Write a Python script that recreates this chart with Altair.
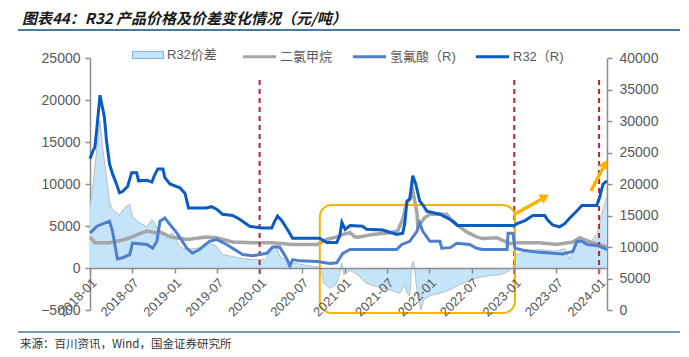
import altair as alt
import pandas as pd

# ---------------- data ----------------
spread_dates = ["2018-01-01","2018-01-14","2018-01-31","2018-02-13","2018-02-26","2018-03-13","2018-03-26",
    "2018-04-08","2018-05-08","2018-05-30","2018-06-21","2018-07-03","2018-08-03","2018-09-03","2018-09-24",
    "2018-10-07","2018-10-29","2018-11-19","2018-12-24","2019-01-23","2019-02-22","2019-04-17","2019-05-30",
    "2019-06-30","2019-07-25","2019-10-07","2019-12-02","2020-01-23","2020-02-26","2020-03-14","2020-03-27",
    "2020-05-10","2020-07-04","2020-09-16","2020-10-03","2020-10-29","2020-11-24","2020-12-07","2020-12-20",
    "2020-12-28","2021-01-24","2021-02-14","2021-03-06","2021-03-28","2021-05-01","2021-06-14","2021-07-27",
    "2021-08-26","2021-09-17","2021-09-26","2021-10-08","2021-10-17","2021-10-25","2021-11-03","2021-11-12",
    "2021-11-25","2021-12-07","2022-01-03","2022-02-15","2022-03-29","2022-05-11","2022-06-23","2022-08-05",
    "2022-09-18","2022-10-31","2022-11-22","2022-12-13","2022-12-26","2023-01-08","2023-02-16","2023-04-20",
    "2023-06-24","2023-08-06","2023-08-28","2023-09-19","2023-10-10","2023-11-22","2023-12-22","2024-01-04",
    "2024-01-18","2024-02-04"]
spread_vals = [7300,10000,14300,17500,14000,11000,7800,
    7000,6300,7200,7600,6100,5400,4900,5800,
    5300,4200,3500,4200,2500,2200,2400,3000,
    2600,1600,1200,1000,1000,2300,2800,1400,
    700,400,100,-1800,-2400,-2000,-1000,600,
    -800,-300,-600,-1000,-1700,-2100,-2400,-2700,
    -3000,-2000,-3000,-3300,500,800,-1500,-3500,
    -5000,-3800,-3300,-3000,-2600,-2000,-1500,-1100,
    -900,-800,-600,-300,0,1500,2000,2200,
    2000,2300,1000,2500,3300,3000,4000,5500,
    7000,8500]

dcm_dates = ["2018-01-01","2018-01-22","2018-03-26","2018-05-30","2018-06-21","2018-08-03","2018-09-03",
    "2018-10-07","2018-10-29","2018-12-11","2019-02-22","2019-05-17","2019-06-30","2019-09-07","2019-12-02",
    "2020-02-26","2020-05-22","2020-09-04","2020-10-16","2020-11-28","2020-12-24","2021-01-24","2021-02-14",
    "2021-03-06","2021-05-01","2021-07-14","2021-08-17","2021-09-08","2021-09-26","2021-10-08","2021-10-21",
    "2021-11-08","2021-11-12","2021-11-29","2021-12-12","2022-01-03","2022-03-16","2022-04-11","2022-05-11",
    "2022-06-10","2022-07-23","2022-08-18","2022-10-18","2022-12-13","2023-01-13","2023-04-20","2023-07-02",
    "2023-09-10","2023-10-10","2023-12-04","2024-02-04"]
dcm_vals = [3700,3000,3000,3400,3600,4100,4400,
    4200,4300,3700,3400,3700,3600,3100,3000,
    3000,2800,2800,3400,3700,4000,4200,3700,
    3700,4000,4200,4400,5800,7800,8200,9200,
    6600,4900,5500,6000,6400,6400,5500,4900,
    4300,3700,3500,3600,2900,3000,3000,2800,
    3100,3600,3000,2500]

hf_dates = ["2018-01-01","2018-01-31","2018-03-26","2018-04-08","2018-04-29","2018-05-21","2018-06-21",
    "2018-07-03","2018-09-03","2018-09-28","2018-10-16","2018-10-29","2018-11-19","2019-01-10","2019-02-22",
    "2019-03-18","2019-04-17","2019-05-30","2019-06-30","2019-08-12","2019-10-20","2019-12-02","2020-02-01",
    "2020-02-26","2020-03-27","2020-04-26","2020-05-10","2020-05-22","2020-06-21","2020-09-04","2020-10-29",
    "2020-11-28","2020-12-24","2021-01-24","2021-08-13","2021-09-04","2021-10-08","2021-11-08","2021-11-20",
    "2021-12-03","2022-01-03","2022-02-15","2022-02-23","2022-04-01","2022-04-28","2022-06-23","2022-07-23",
    "2022-08-18","2022-12-01","2022-12-05","2022-12-26","2023-01-04","2023-02-08","2023-04-07","2023-07-28",
    "2023-09-10","2023-09-27","2023-10-19","2023-11-10","2023-12-27","2024-02-04"]
hf_vals = [12200,13300,14100,12500,8100,8300,8800,
    10600,10400,9800,10900,14100,14600,12200,9800,
    9000,9600,10900,11200,10400,8800,8600,9000,
    10000,10000,8200,7000,8000,7800,7700,7400,
    7500,9000,9600,9600,10400,10900,12500,13800,
    12500,10900,10900,9800,9900,10600,10400,9800,
    9600,9600,12200,12200,9800,9500,9200,8900,
    9300,10900,10900,10400,10200,9600]

r32_dates = ["2018-01-01","2018-01-14","2018-01-22","2018-01-31","2018-02-13","2018-03-04","2018-03-13",
    "2018-03-26","2018-04-08","2018-04-25","2018-05-08","2018-05-21","2018-06-12","2018-06-29","2018-07-21",
    "2018-07-29","2018-09-03","2018-09-24","2018-10-07","2018-10-20","2018-11-11","2018-11-19","2018-12-11",
    "2019-01-23","2019-02-14","2019-03-01","2019-05-17","2019-06-08","2019-06-30","2019-07-25","2019-09-07",
    "2019-10-07","2019-11-19","2020-01-10","2020-02-22","2020-03-06","2020-03-18","2020-04-05","2020-05-01",
    "2020-05-22","2020-09-16","2020-10-16","2020-11-28","2020-12-11","2020-12-20","2021-01-03","2021-01-24",
    "2021-03-19","2021-04-06","2021-06-14","2021-08-13","2021-09-08","2021-09-17","2021-09-26","2021-10-08",
    "2021-10-21","2021-11-03","2021-11-20","2021-12-07","2021-12-20","2022-02-15","2022-03-03","2022-03-29",
    "2022-04-15","2022-05-02","2023-01-01","2023-01-13","2023-02-16","2023-03-22","2023-05-12","2023-05-24",
    "2023-06-15","2023-07-15","2023-08-06","2023-08-28","2023-09-27","2023-10-19","2023-12-22","2024-01-04",
    "2024-01-18","2024-02-04"]
r32_vals = [24000,25300,25800,29000,34100,30600,26900,
    23200,21600,20000,18600,18800,19600,21800,21800,
    20500,20600,20300,21500,22400,22400,21000,20000,
    19400,18500,16200,16200,16400,16000,15200,15000,
    14400,13300,13000,13000,14100,14900,14200,12700,
    11400,11400,10700,10700,11800,13900,12800,13400,
    13300,12800,12700,12000,12200,13800,17300,17600,
    21300,20000,17300,16500,15700,15200,14900,14400,
    14000,13400,13400,13700,14200,15000,15000,14300,
    13500,13200,13700,14600,15700,16600,16600,18000,
    20000,20500]

left_ticks = [-5000, 0, 5000, 10000, 15000, 20000, 25000]
right_ticks = [0, 5000, 10000, 15000, 20000, 25000, 30000, 35000, 40000]
x_tick_months = [(2018, 1), (2018, 7), (2019, 1), (2019, 7), (2020, 1), (2020, 7), (2021, 1),
                 (2021, 7), (2022, 1), (2022, 7), (2023, 1), (2023, 7), (2024, 1)]
marker_dates = ["2020-01-01", "2023-01-01", "2024-01-01"]
box_start, box_end = "2020-09-16", "2023-01-04"

TITLE = "图表44：R32 产品价格及价差变化情况（元/吨）"
SOURCE = "来源：百川资讯，Wind，国金证券研究所"
SERIES_FILL = ["R32价差"]
SERIES_LINES = ["二氯甲烷", "氢氟酸（R)", "R32（R)"]

# ---------------- styling ----------------
C_AREA = "#c4e4f9"
C_DCM = "#a6a6a6"
C_HF = "#4d7fcc"
C_R32 = "#0b5cc0"
C_RED = "#b3262b"
C_YEL = "#f4b400"
C_AX = "#8c8c8c"
C_LAB = "#595959"
C_RULE = "#467aa8"
FONT = "Liberation Sans, Noto Sans CJK SC"
CJK = "Noto Sans CJK SC"

spread_df = pd.DataFrame({"date": spread_dates, "value": spread_vals, "series": SERIES_FILL[0]})
dcm_df = pd.DataFrame({"date": dcm_dates, "value": dcm_vals, "series": SERIES_LINES[0]})
hf_df = pd.DataFrame({"date": hf_dates, "value": hf_vals, "series": SERIES_LINES[1]})
r32_df = pd.DataFrame({"date": r32_dates, "value": r32_vals, "series": SERIES_LINES[2]})
marker_df = pd.DataFrame({"date": marker_dates})
box_df = pd.DataFrame({"date": [box_start], "date2": [box_end]})
one = pd.DataFrame({"k": [0]})

xscale = alt.Scale(type="utc", domain=[alt.DateTime(year=2018, month=1, date=1, utc=True),
                                       alt.DateTime(year=2024, month=2, date=4, utc=True)])
xaxis = alt.Axis(values=[alt.DateTime(year=y, month=m, date=1, utc=True) for y, m in x_tick_months],
                 format="%Y-%m", labelAngle=-45, offset=-42, tickSize=5, tickColor=C_AX, tickWidth=1.5,
                 domainColor=C_AX, domainWidth=1.5, labelColor=C_LAB, labelFont=FONT, labelFontSize=13,
                 labelOverlap=False, labelFlush=False, labelBound=False, grid=False, title=None,
                 labelPadding=3, zindex=1)
X = alt.X("date:T", scale=xscale, axis=xaxis, title=None)

yleft = alt.Y("value:Q", scale=alt.Scale(domain=[-5000, 25000], zero=False, nice=False),
              axis=alt.Axis(orient="left", values=left_ticks, format="d", tickSize=5, tickColor=C_AX,
                            tickWidth=1.5, domainColor=C_AX, domainWidth=1.5, labelColor=C_LAB,
                            labelFont=FONT, labelFontSize=14, labelPadding=5, grid=False, title=None,
                            labelOverlap=False, labelFlush=False), title=None)
yright = alt.Y("value:Q", scale=alt.Scale(domain=[0, 40000], zero=False, nice=False),
               axis=alt.Axis(orient="right", values=right_ticks, format="d", tickSize=5, tickColor=C_AX,
                             tickWidth=1.5, domainColor=C_AX, domainWidth=1.5, labelColor=C_LAB,
                             labelFont=FONT, labelFontSize=14, labelPadding=7, grid=False, title=None,
                             labelOverlap=False, labelFlush=False), title=None)

fill_legend = alt.Legend(orient="none", legendX=42, legendY=-19, title=None, padding=0,
                         symbolType="M-1,-0.23L1,-0.23L1,0.23L-1,0.23Z", symbolSize=961,
                         symbolStrokeColor="#7db2e0", symbolStrokeWidth=1, symbolFillColor=C_AREA,
                         labelFont=FONT, labelFontSize=13, labelColor=C_LAB, labelOffset=3)
stroke_legend = alt.Legend(orient="none", legendX=151, legendY=-20, title=None, padding=0,
                           direction="horizontal", symbolType="stroke", symbolSize=1100,
                           symbolStrokeWidth=3, columnPadding=13, labelFont=FONT, labelFontSize=13,
                           labelColor=C_LAB, labelOffset=2)
stroke_scale = alt.Scale(domain=SERIES_LINES, range=[C_DCM, C_HF, C_R32])

area = alt.Chart(spread_df).mark_area(opacity=1, interpolate="linear").encode(
    x=X, y=yleft, y2=alt.datum(0),
    fill=alt.Fill("series:N", scale=alt.Scale(domain=SERIES_FILL, range=[C_AREA]), legend=fill_legend))
outline = alt.Chart(spread_df).mark_line(color="#a9b4bd", strokeWidth=0.8).encode(x=X, y=yleft)
dcm = alt.Chart(dcm_df).mark_line(strokeWidth=3.5).encode(
    x=X, y=yleft, stroke=alt.Stroke("series:N", scale=stroke_scale, legend=stroke_legend))

hf = alt.Chart(hf_df).mark_line(strokeWidth=3).encode(
    x=X, y=yright, stroke=alt.Stroke("series:N", scale=stroke_scale, legend=stroke_legend))
r32 = alt.Chart(r32_df).mark_line(strokeWidth=3).encode(
    x=X, y=yright, stroke=alt.Stroke("series:N", scale=stroke_scale, legend=stroke_legend))

markers = alt.Chart(marker_df).mark_rule(color=C_RED, strokeWidth=2, strokeDash=[5, 4]).encode(
    x=X, y=alt.value(22), y2=alt.value(218))
box = alt.Chart(box_df).mark_rect(filled=False, stroke=C_YEL, strokeWidth=2, cornerRadius=12).encode(
    x=X, x2="date2:T", y=alt.value(147), y2=alt.value(255))

arrow1 = alt.Chart(one).mark_rule(color=C_YEL, strokeWidth=3.5).encode(
    x=alt.value(425), y=alt.value(156), x2=alt.value(452), y2=alt.value(141))
head1 = alt.Chart(one).mark_point(shape="triangle-up", filled=True, size=110, angle=61,
                                  color=C_YEL, opacity=1).encode(x=alt.value(455), y=alt.value(139))
arrow2 = alt.Chart(one).mark_rule(color=C_YEL, strokeWidth=3.5).encode(
    x=alt.value(501), y=alt.value(133), x2=alt.value(513), y2=alt.value(110))
head2 = alt.Chart(one).mark_point(shape="triangle-up", filled=True, size=110, angle=28,
                                  color=C_YEL, opacity=1).encode(x=alt.value(515), y=alt.value(106))

title = alt.Chart(one).mark_text(text=TITLE, align="left", baseline="middle", font=CJK, fontSize=15,
                                 fontWeight="bold", fontStyle="italic", color="#1a1a1a").encode(
    x=alt.value(-68), y=alt.value(-39))
top_line = alt.Chart(one).mark_rule(color=C_RULE, strokeWidth=2).encode(
    x=alt.value(-72), x2=alt.value(590), y=alt.value(-28))
bottom_line = alt.Chart(one).mark_rule(color=C_RULE, strokeWidth=1.5).encode(
    x=alt.value(-72), x2=alt.value(590), y=alt.value(274))
source = alt.Chart(one).mark_text(text=SOURCE, align="left", baseline="middle", font=CJK, fontSize=11.5,
                                  color="#333333").encode(x=alt.value(-70), y=alt.value(287))

left = alt.layer(area, outline, dcm, markers, box, arrow1, head1, arrow2, head2,
                 title, top_line, bottom_line, source)
right = alt.layer(hf, r32)

chart = alt.layer(left, right).resolve_scale(y="independent").properties(
    width=517, height=252,
    padding={"left": 82, "top": 50, "right": 74, "bottom": 45},
    autosize=alt.AutoSizeParams(type="none"),
    background="white",
).configure_view(stroke=None)

chart.save("out.html", embed_options={"renderer": "svg", "actions": False})
